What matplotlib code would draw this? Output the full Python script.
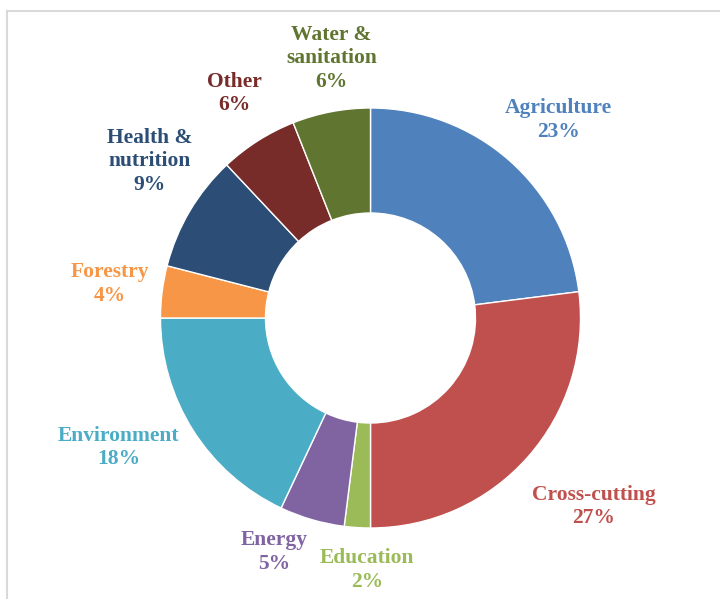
import numpy as np
import matplotlib
matplotlib.use("Agg")
import matplotlib.pyplot as plt
from matplotlib.lines import Line2D

# data, clockwise from 12 o'clock
sectors = ["Agriculture", "Cross-cutting", "Education", "Energy", "Environment",
           "Forestry", "Health &\nnutrition", "Other", "Water &\nsanitation"]
shares = [23, 27, 2, 5, 18, 4, 9, 6, 6]
colors = ["#4F81BD", "#C0504D", "#9BBB59", "#8064A2", "#4BACC6",
          "#F79646", "#2C4D75", "#772C2A", "#5F7530"]

# label layout: distance from centre (in radii) and angle nudge (deg)
label_dist = [1.30, 1.39, 1.20, 1.205, 1.35, 1.25, 1.29, 1.25, 1.25]
label_nudge = [-2.0, 1.2, 2.8, -6.2, -5.2, -0.2, -4.7, -1.2, -2.3]

W, H = 720, 599
cx, cy, R = 370.5, 318.0, 210.0

fig = plt.figure(figsize=(W / 100, H / 100), dpi=100)
fig.patch.set_facecolor("white")
ax = fig.add_axes([0, 0, 1, 1])

wedges, _ = ax.pie(shares, colors=colors, startangle=90, counterclock=False,
                   radius=1.0, wedgeprops=dict(width=0.5, edgecolor="white", linewidth=1.0))

# pie() resets the limits, so set them afterwards
ax.set_xlim(-cx / R, (W - cx) / R)
ax.set_ylim(-(H - cy) / R, cy / R)
ax.set_aspect("equal")
ax.axis("off")

for w, name, pct, col, d, nud in zip(wedges, sectors, shares, colors, label_dist, label_nudge):
    mid = np.deg2rad((w.theta1 + w.theta2) / 2 + nud)
    ax.text(d * np.cos(mid), d * np.sin(mid), f"{name}\n{pct}%", color=col,
            ha="center", va="center", fontsize=15.5, fontweight="bold",
            family="Liberation Serif", linespacing=1.25)

# frame of the chart area
fig.add_artist(Line2D([7 / W, 7 / W], [0, 1 - 11 / H], transform=fig.transFigure,
                      color="#d9d9d9", linewidth=1.5))
fig.add_artist(Line2D([7 / W, 1], [1 - 11 / H, 1 - 11 / H], transform=fig.transFigure,
                      color="#d9d9d9", linewidth=1.5))

fig.savefig("out.png", dpi=100, facecolor="white")
